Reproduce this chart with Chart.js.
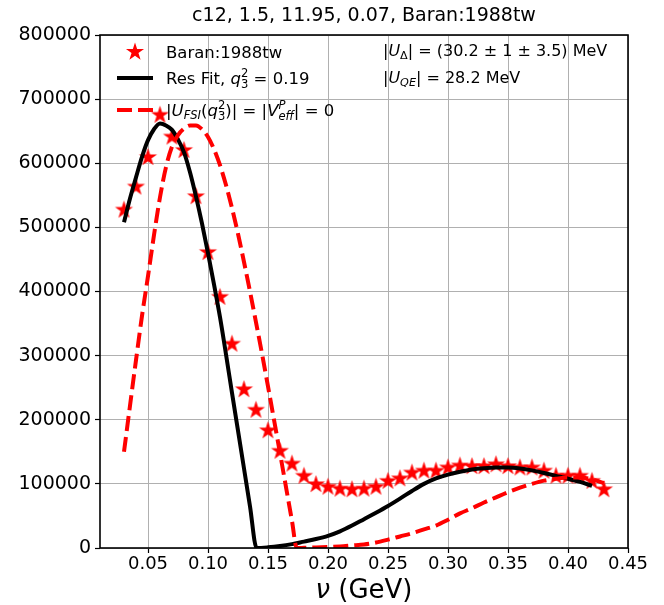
<!DOCTYPE html>
<html><head><meta charset="utf-8">
<script src="https://cdn.jsdelivr.net/npm/chart.js@4/dist/chart.umd.min.js"></script>
<style>html,body{margin:0;padding:0;background:#fff;}</style>
</head><body>
<canvas id="c" width="664" height="605"></canvas>
<script>
// ---------- data ----------
const titleText = 'c12, 1.5, 11.95, 0.07, Baran:1988tw';
const xTickValues = [0.05,0.10,0.15,0.20,0.25,0.30,0.35,0.40,0.45];
const xTickLabels = ['0.05','0.10','0.15','0.20','0.25','0.30','0.35','0.40','0.45'];
const yTickValues = [0,100000,200000,300000,400000,500000,600000,700000,800000];
const yTickLabels = ['0','100000','200000','300000','400000','500000','600000','700000','800000'];

// Baran:1988tw data (stars)
const nuData = [0.03,0.04,0.05,0.06,0.07,0.08,0.09,0.10,0.11,0.12,0.13,0.14,0.15,0.16,0.17,0.18,0.19,0.20,0.21,0.22,0.23,0.24,0.25,0.26,0.27,0.28,0.29,0.30,0.31,0.32,0.33,0.34,0.35,0.36,0.37,0.38,0.39,0.40,0.41,0.42,0.43];
const baranXsec = [527000,563000,609000,675000,641000,620000,548000,461000,391000,318000,247000,215000,183000,151000,131000,112000,99000,95000,92000,91000,92000,95000,104000,108000,117000,120000,120000,125000,128000,127000,127000,130000,127000,125000,125000,120000,112000,112000,112000,104000,91000];

// Res Fit (black solid)
const fitNu = [0.03,0.035,0.04,0.045,0.05,0.055,0.06,0.065,0.07,0.075,0.08,0.085,0.09,0.095,0.10,0.105,0.11,0.115,0.12,0.125,0.13,0.135,0.1405,0.15,0.16,0.17,0.18,0.19,0.20,0.21,0.22,0.23,0.24,0.25,0.26,0.27,0.28,0.29,0.30,0.31,0.32,0.33,0.34,0.35,0.36,0.37,0.38,0.39,0.40,0.41,0.42];
const fitXsec = [508000,545000,578000,610000,636000,653000,662000,659000,652000,637000,617000,586000,548000,506000,460000,411000,360000,302000,242000,183000,124000,65000,0,1000,3000,6000,10000,14000,19000,26000,35000,45000,55000,65500,77000,89000,100000,108500,114500,119000,122500,124500,125500,125500,124000,121000,117000,112500,108000,103000,97000];

// |U_FSI| = |V_eff| = 0 (red dashed)
const fsiNu = [0.03,0.035,0.04,0.045,0.05,0.055,0.06,0.065,0.07,0.075,0.08,0.085,0.09,0.095,0.10,0.105,0.11,0.115,0.12,0.125,0.13,0.135,0.14,0.145,0.15,0.155,0.16,0.165,0.17,0.174,0.18,0.19,0.20,0.21,0.22,0.23,0.24,0.25,0.26,0.27,0.28,0.29,0.30,0.31,0.32,0.33,0.34,0.35,0.36,0.37,0.38,0.39,0.40,0.41,0.42,0.43];
const fsiXsec = [150000,222000,293000,362000,424000,488000,547000,594000,626000,644000,654000,659000,659000,653000,641000,622000,597000,566000,530000,490000,446000,400000,352000,303000,252000,200000,148000,95000,42000,0,300,800,1500,2500,4000,5500,8500,13000,18000,23000,29000,35000,44000,54000,62000,71000,79000,87000,94000,100000,105000,108000,110000,110000,107000,101000];

// ---------- helpers ----------
const FAM = '"DejaVu Sans"';
const RED = '#ff0000';
function fnt(it, sz){ return (it ? 'italic ' : '') + sz + 'px ' + FAM; }

function makeStar(R){
  const s = Math.ceil(R*2+2);
  const cv = document.createElement('canvas');
  cv.width = s; cv.height = s;
  const c = cv.getContext('2d');
  drawStar(c, s/2, s/2, R);
  return cv;
}
function drawStar(c, cx, cy, R){
  const r = R*0.381966;
  c.beginPath();
  for(let k=0;k<10;k++){
    const a = -Math.PI/2 + k*Math.PI/5;
    const rr = (k%2===0)?R:r;
    const px = cx + rr*Math.cos(a), py = cy + rr*Math.sin(a);
    if(k===0) c.moveTo(px,py); else c.lineTo(px,py);
  }
  c.closePath();
  c.fillStyle = RED; c.fill();
}
const starImg = makeStar(9.5);

function pw(ctx, p, size){
  if(p.pair){
    ctx.font = fnt(p.sub.it, size*0.7); const a = ctx.measureText(p.sub.t).width;
    ctx.font = fnt(p.sup.it, size*0.7); const b = ctx.measureText(p.sup.t).width;
    return Math.max(a,b);
  }
  ctx.font = fnt(p.it, (p.sub||p.sup) ? size*0.7 : size);
  return ctx.measureText(p.t).width;
}
function drawRich(ctx, x, base, parts, size, align){
  let total = 0;
  parts.forEach(p => total += pw(ctx,p,size));
  let cx = align==='center' ? x - total/2 : x;
  ctx.textBaseline = 'alphabetic'; ctx.textAlign = 'left'; ctx.fillStyle = '#000';
  parts.forEach(p => {
    const w = pw(ctx,p,size);
    if(p.pair){
      ctx.font = fnt(p.sub.it, size*0.7); ctx.fillText(p.sub.t, cx, base + size*0.25);
      ctx.font = fnt(p.sup.it, size*0.7); ctx.fillText(p.sup.t, cx, base - size*0.45);
    } else if(p.sub){
      ctx.font = fnt(p.it, size*0.7); ctx.fillText(p.t, cx, base + size*0.2);
    } else if(p.sup){
      ctx.font = fnt(p.it, size*0.7); ctx.fillText(p.t, cx, base - size*0.45);
    } else {
      ctx.font = fnt(p.it, size); ctx.fillText(p.t, cx, base);
    }
    cx += w;
  });
}

const legendItems = [
  {kind:'star', parts:[{t:'Baran:1988tw'}]},
  {kind:'solid', parts:[{t:'Res Fit, '},{t:'q',it:true},{pair:true,sub:{t:'3'},sup:{t:'2'}},{t:' = 0.19'}]},
  {kind:'dash', parts:[{t:'|'},{t:'U',it:true},{t:'FSI',it:true,sub:true},{t:'('},{t:'q',it:true},{pair:true,sub:{t:'3'},sup:{t:'2'}},{t:')| = |'},{t:'V',it:true},{pair:true,sub:{t:'eff',it:true},sup:{t:'P',it:true}},{t:'| = 0'}]}
];
const noteLines = [
  [{t:'|'},{t:'U',it:true},{t:'\u0394',sub:true},{t:'| = (30.2 \u00b1 1 \u00b1 3.5) MeV'}],
  [{t:'|'},{t:'U',it:true},{t:'QE',it:true,sub:true},{t:'| = 28.2 MeV'}]
];

const decor = {
  id:'decor',
  afterDatasetsDraw(chart){
    const {ctx, chartArea:a} = chart;
    ctx.save();
    ctx.strokeStyle = '#000'; ctx.lineWidth = 1.6;
    ctx.strokeRect(a.left, a.top, a.right-a.left, a.bottom-a.top);
    ctx.restore();
  },
  afterDraw(chart){
    const {ctx, chartArea:a} = chart;
    const cxm = (a.left+a.right)/2;
    ctx.save();
    // title
    ctx.font = fnt(false,19); ctx.fillStyle='#000'; ctx.textAlign='center'; ctx.textBaseline='alphabetic';
    ctx.fillText(titleText, cxm, 21);
    // x label
    drawRich(ctx, cxm, 598, [{t:'\u03bd',it:true},{t:' (GeV)'}], 26, 'center');
    // legend
    const LS = 16.5;
    const rowsY = [52, 78, 110];
    legendItems.forEach((it,i) => {
      const y = rowsY[i];
      if(it.kind==='star'){ drawStar(ctx, 135, y, 9.5); }
      else {
        ctx.beginPath(); ctx.moveTo(117,y); ctx.lineTo(153,y);
        ctx.lineWidth = 4; ctx.strokeStyle = it.kind==='solid' ? '#000' : RED;
        ctx.setLineDash(it.kind==='dash' ? [15,6] : []);
        ctx.stroke(); ctx.setLineDash([]);
      }
      drawRich(ctx, 166, y+6, it.parts, LS, 'left');
    });
    // annotation
    drawRich(ctx, 383, 56, noteLines[0], 16, 'left');
    drawRich(ctx, 383, 83, noteLines[1], 16, 'left');
    ctx.restore();
  }
};

const toXY = (xs, ys) => xs.map((x,i) => ({x:x, y:ys[i]}));

new Chart(document.getElementById('c'), {
  type:'scatter',
  data:{ datasets:[
    { label:'Baran:1988tw', data: toXY(nuData, baranXsec), pointStyle: starImg, pointRadius: 9, showLine:false, order:3 },
    { label:'Res Fit', data: toXY(fitNu, fitXsec), showLine:true, borderColor:'#000', borderWidth:4, pointRadius:0, cubicInterpolationMode:'monotone', order:2 },
    { label:'FSI=0', data: toXY(fsiNu, fsiXsec), showLine:true, borderColor:RED, borderWidth:4, borderDash:[15,6], pointRadius:0, cubicInterpolationMode:'monotone', order:1 }
  ]},
  options:{
    responsive:false, animation:false, devicePixelRatio:1,
    layout:{ padding:{ top:35, right:36, left:0, bottom:0 } },
    plugins:{ legend:{display:false}, tooltip:{enabled:false}, title:{display:false} },
    scales:{
      x:{ type:'linear', min:0.01, max:0.45,
          afterBuildTicks: s => { s.ticks = xTickValues.map(v => ({value:v})); },
          afterFit: s => { s.height = 57; },
          ticks:{ callback:(v) => xTickLabels[xTickValues.indexOf(v)] ?? '', font:{family:'DejaVu Sans', size:18}, color:'#000', padding:1, maxRotation:0, autoSkip:false },
          grid:{ color:'#b0b0b0', lineWidth:1, tickLength:5, tickColor:'#000', tickWidth:1.2 },
          border:{ display:false } },
      y:{ type:'linear', min:0, max:800000,
          afterBuildTicks: s => { s.ticks = yTickValues.map(v => ({value:v})); },
          afterFit: s => { s.width = 100; },
          ticks:{ callback:(v) => yTickLabels[yTickValues.indexOf(v)] ?? '', font:{family:'DejaVu Sans', size:19}, color:'#000', padding:4, autoSkip:false },
          grid:{ color:'#b0b0b0', lineWidth:1, tickLength:5, tickColor:'#000', tickWidth:1.2 },
          border:{ display:false } }
    }
  },
  plugins:[decor]
});
</script>
</body></html>
